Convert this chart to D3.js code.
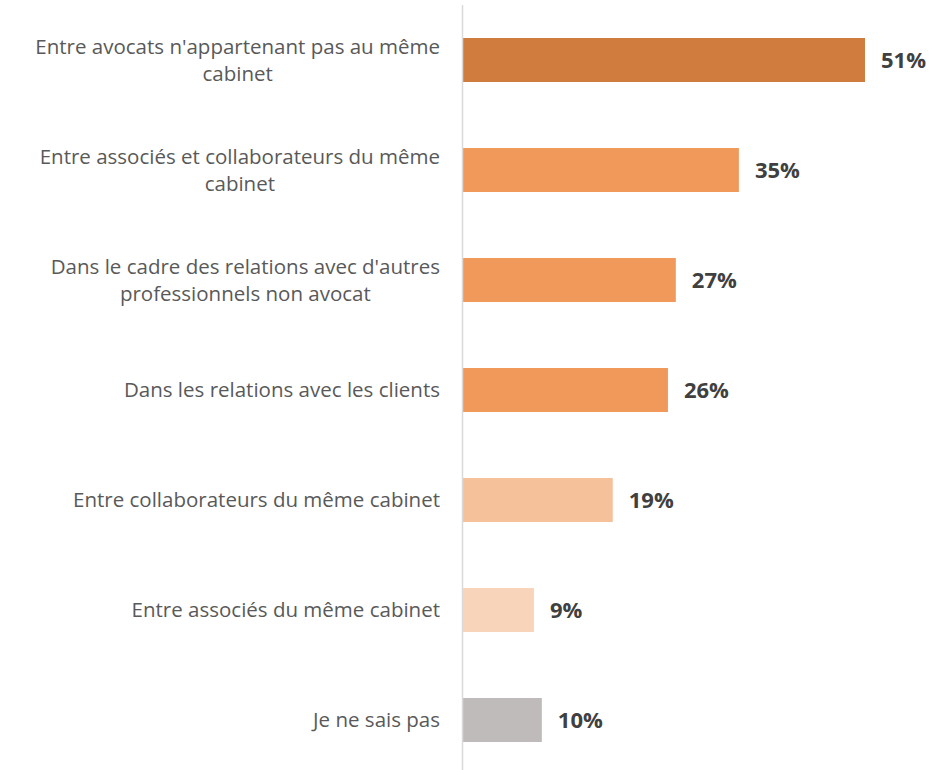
<!DOCTYPE html>
<html>
<head>
<meta charset="utf-8">
<script src="https://cdn.jsdelivr.net/npm/d3@7"></script>
<style>
body { margin: 0; background: #fff; }
text { font-family: "Open Sans", sans-serif; }
</style>
</head>
<body>
<svg class="chart-svg"></svg>
<script>
var categories = [
	["Entre avocats n'appartenant pas au même", "cabinet"],
	["Entre associés et collaborateurs du même", "cabinet"],
	["Dans le cadre des relations avec d'autres", "professionnels non avocat"],
	["Dans les relations avec les clients"],
	["Entre collaborateurs du même cabinet"],
	["Entre associés du même cabinet"],
	["Je ne sais pas"]
];
var values = [51, 35, 27, 26, 19, 9, 10];
var bar_colors = ['#D07C3F', '#F0995A', '#F0995A', '#F0995A', '#F5C19A', '#F8D5BA', '#BFBBBB'];

var width = 950, height = 770;
var svg = d3.select('.chart-svg').attr('width', width).attr('height', height);

var x = d3.scaleLinear().domain([0, 51]).range([463, 865]);
var y = d3.scaleBand().domain(d3.range(values.length)).range([5, 775])
	.paddingInner(0.6).paddingOuter(0.3);

// bars
svg.selectAll('.bar').data(values).enter()
	.append('rect')
	.attr('class', 'bar')
	.attr('x', x(0))
	.attr('y', function(d, i) { return y(i); })
	.attr('width', function(d) { return x(d) - x(0); })
	.attr('height', y.bandwidth())
	.attr('fill', function(d, i) { return bar_colors[i]; });

// axis line
svg.append('line')
	.attr('x1', x(0) - 0.5).attr('x2', x(0) - 0.5)
	.attr('y1', 5).attr('y2', height)
	.attr('stroke', '#D9D9D9').attr('stroke-width', 1.5);

// value labels
svg.selectAll('.val').data(values).enter()
	.append('text')
	.attr('class', 'val')
	.attr('x', function(d) { return x(d) + 16; })
	.attr('y', function(d, i) { return y(i) + y.bandwidth() / 2; })
	.attr('dy', '0.35em')
	.attr('font-size', 22)
	.attr('font-weight', 'bold')
	.attr('fill', '#404040')
	.text(function(d) { return d + '%'; });

// category labels, block right-aligned, lines centred
var label_right = 440, line_h = 27;
categories.forEach(function(lines, i) {
	var g = svg.append('g');
	var cy = y(i) + y.bandwidth() / 2;
	var texts = lines.map(function(l, j) {
		return g.append('text')
			.attr('y', cy + (j - (lines.length - 1) / 2) * line_h)
			.attr('dy', '0.35em')
			.attr('font-size', 20.5)
			.attr('fill', '#595959')
			.attr('text-anchor', 'middle')
			.text(l);
	});
	var maxW = d3.max(texts, function(t) { return t.node().getComputedTextLength(); });
	texts.forEach(function(t) { t.attr('x', label_right - maxW / 2); });
});
</script>
</body>
</html>
